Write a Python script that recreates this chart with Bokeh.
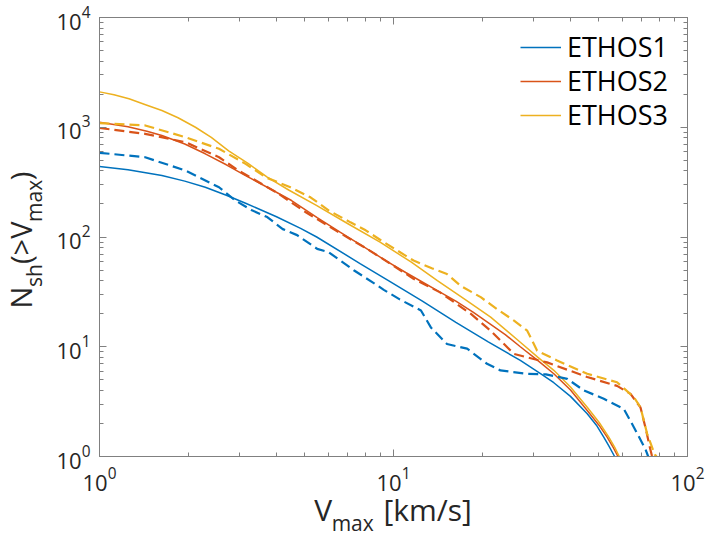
import numpy as np
from bokeh.plotting import figure
from bokeh.models import (Range1d, FixedTicker, LogAxis, Legend, LegendItem,
                          CustomJSTickFormatter)
from bokeh.core.properties import value
from bokeh.embed import file_html
from bokeh.resources import INLINE

# ---------------- data ----------------
series_names = ["ETHOS1", "ETHOS2", "ETHOS3"]
series_colors = ["#0072BD", "#D95319", "#EDB120"]

e1_solid_x = [1, 1.25, 1.63, 1.95, 2.29, 2.7, 3.14, 4.0, 4.83, 5.48, 7.72, 9.77, 12.5,
              16.3, 21, 27, 32, 35.1, 40, 45.6, 49, 51.9, 54, 56.5]
e1_solid_y = [439, 410, 363, 323, 284, 240, 203, 153, 120, 100, 57, 39, 26.2,
              16.7, 11.1, 7.5, 5.57, 4.7, 3.53, 2.45, 1.93, 1.5, 1.25, 1.0]

e1_dash_x = [1, 1.43, 1.96, 2.55, 2.9, 3.3, 3.72, 4.2, 4.7, 5.5, 6.0, 6.6, 7.35, 8.57,
             9.27, 10.5, 12.4, 13.4, 15.2, 17.8, 20.8, 23.1, 28.5, 33, 39, 44.4, 51.9,
             60.7, 65.7, 71.9, 73.5]
e1_dash_y = [585, 533, 403, 284, 215, 175, 152, 118, 104, 78, 73, 61, 49.5, 38,
             33, 27, 21.4, 15, 10.6, 9.6, 7.0, 6.08, 5.67, 5.6, 5.1, 4.0, 3.36,
             2.72, 1.85, 1.17, 1.0]

e2_solid_x = [1, 1.25, 1.45, 1.63, 1.95, 2.29, 2.7, 3.14, 3.8, 4.5, 5.5, 6.6, 8.0, 9.5,
              11, 12.4, 14.3, 16.3, 18.7, 21.4, 24, 27, 31, 35.1, 40, 45.6, 50, 53.3,
              56, 58]
e2_solid_y = [1112, 1010, 920, 841, 703, 573, 455, 363, 275, 215, 150, 110, 80, 60,
              47.5, 39.5, 31.8, 26, 20.6, 16, 12.9, 10, 7.48, 5.67, 4.03, 2.62, 1.93, 1.5,
              1.2, 1.0]

e2_dash_x = [1, 1.43, 1.96, 2.55, 2.97, 4.0, 5.0, 6.6, 8.0, 9.77, 11.7, 14.4, 18.3, 21.4,
             23.1, 25.7, 28.5, 33.3, 45.6, 57.6, 64, 69.2, 71.9, 74.7, 75.8]
e2_dash_y = [985, 871, 731, 533, 403, 255, 170, 108, 80, 57, 41.6, 31.3, 20, 14,
             11.4, 8.6, 8.0, 7.2, 5.3, 4.4, 3.72, 2.8, 1.85, 1.17, 1.0]

e3_solid_x = [1, 1.12, 1.26, 1.45, 1.63, 1.85, 2.12, 2.4, 2.75, 3.2, 3.72, 4.4, 5.43, 7.0,
              9.0, 11.5, 14.1, 17.5, 21.4, 27, 31, 35.1, 40, 45.6, 50, 54, 56.5, 58.6]
e3_solid_y = [2100, 1975, 1816, 1589, 1422, 1221, 1000, 810, 610, 468, 351, 268, 196, 132,
              89.7, 59, 40, 27, 18.6, 11, 8.0, 6.1, 4.29, 2.81, 2.05, 1.5, 1.22, 1.0]

e3_dash_x = [1, 1.43, 1.96, 2.55, 3.14, 3.7, 4.46, 5.22, 6.03, 7.14, 8.04, 9.27, 11.7, 13.5,
             15.2, 16.9, 19.8, 22.5, 25.7, 28.5, 30.8, 36, 45.6, 57.6, 65.7, 69.2, 72.9,
             77.4, 78.5]
e3_dash_y = [1089, 1038, 812, 636, 464, 347, 284, 230, 174, 136, 115, 89.7, 61, 52,
             46, 36, 28.3, 22, 17.3, 14, 9.2, 7.5, 5.67, 4.75, 3.47, 2.81, 1.61,
             1.04, 1.0]

x_major_ticks = [1, 10, 100]
x_minor_ticks = [2, 3, 4, 5, 6, 7, 8, 9, 20, 30, 40, 50, 60, 70, 80, 90]
y_major_ticks = [1, 10, 100, 1000, 10000]
y_minor_ticks = [m * d for d in [1, 10, 100, 1000] for m in range(2, 10)]

# ---------------- figure ----------------
FONT = "Open Sans"
AX_COL = "#808080"
TXT_COL = "#262626"
W, H = 706, 538
FL, FR, FT, FB = 99, 19, 17, 82

p = figure(width=W, height=H, x_axis_type="log", y_axis_type="log",
           x_range=Range1d(1, 100), y_range=Range1d(1, 1e4),
           output_backend="svg", toolbar_location=None,
           min_border_left=FL, min_border_right=FR,
           min_border_top=FT, min_border_bottom=FB)
p.grid.visible = False
p.outline_line_color = AX_COL
p.outline_line_width = 1
p.background_fill_color = "white"
p.border_fill_color = "white"

def style_axis(ax, ticks, minor, labels=True):
    ax.ticker = FixedTicker(ticks=ticks, minor_ticks=minor)
    ax.axis_line_color = AX_COL
    ax.major_tick_line_color = AX_COL
    ax.minor_tick_line_color = AX_COL
    ax.major_tick_in = 7
    ax.major_tick_out = 0
    ax.minor_tick_in = 4
    ax.minor_tick_out = 0
    ax.major_label_text_font = FONT
    ax.major_label_text_font_size = "22px"
    ax.major_label_text_color = TXT_COL
    if not labels:
        ax.formatter = CustomJSTickFormatter(code="return ''")

style_axis(p.xaxis[0], x_major_ticks, x_minor_ticks)
style_axis(p.yaxis[0], y_major_ticks, y_minor_ticks)
p.xaxis[0].major_label_standoff = 10
p.yaxis[0].major_label_standoff = 9

top_ax = LogAxis()
style_axis(top_ax, x_major_ticks, x_minor_ticks, labels=False)
p.add_layout(top_ax, "above")
right_ax = LogAxis()
style_axis(right_ax, y_major_ticks, y_minor_ticks, labels=False)
p.add_layout(right_ax, "right")

# ---------------- lines ----------------
solids = [(e1_solid_x, e1_solid_y), (e2_solid_x, e2_solid_y), (e3_solid_x, e3_solid_y)]
dashes = [(e1_dash_x, e1_dash_y), (e2_dash_x, e2_dash_y), (e3_dash_x, e3_dash_y)]
solid_renderers = []
for (sx, sy), col in zip(solids, series_colors):
    solid_renderers.append(p.line(sx, sy, line_color=col, line_width=1.5))
for (dx, dy), col in zip(dashes, series_colors):
    p.line(dx, dy, line_color=col, line_width=2.2, line_dash="10 5")

# ---------------- legend (one row per entry, to match row pitch) ----------------
legend_row_bottoms = [391, 357, 323]
for name, r, yb in zip(series_names, solid_renderers, legend_row_bottoms):
    lg = Legend(items=[LegendItem(label=name, renderers=[r])], location=(421, yb))
    lg.label_text_font = FONT
    lg.label_text_font_size = "27px"
    lg.label_text_color = "black"
    lg.glyph_width = 41
    lg.glyph_height = 30
    lg.label_height = 30
    lg.label_standoff = 6
    lg.padding = 0
    lg.margin = 0
    lg.border_line_color = None
    lg.background_fill_alpha = 0
    p.add_layout(lg)

# ---------------- axis titles (pieces with subscripts) ----------------
FW = W - FL - FR
FH = H - FT - FB

def to_data(cx, cy):
    return (10 ** (2.0 * (cx - FL) / FW), 10 ** (4.0 * (FT + FH - cy) / FH))

MAIN, XMAIN, SUB = 29, 30, 21
adv = {"N": .736, "s": .489, "h": .614, "(": .297, ">": .572, "V": .579, "m": .930,
       "a": .556, "x": .504, ")": .297, " ": .26, "[": .331, "k": .525, "/": .371,
       "]": .331}

def width(t, size):
    return sum(adv.get(c, .55) for c in t) * size

pieces = []  # (text, cx, cy, size, angle)

# x title: V_max [km/s]
xparts = [("V", XMAIN, 0, 0), ("max", SUB, 13, 0), ("[km/s]", XMAIN, 0, 10)]
total = sum(width(t, s) + g for t, s, _, g in xparts)
cx = FL + FW / 2 - total / 2
for t, s, shift, gap in xparts:
    cx += gap
    pieces.append((t, cx, 509 + shift, s, 0.0))
    cx += width(t, s)

# y title: N_sh(>V_max), rotated
yparts = [("N", MAIN, 0), ("sh", SUB, 13), ("(>V", MAIN, 0), ("max", SUB, 13), (")", MAIN, 0)]
total = sum(width(t, s) for t, s, _ in yparts)
cy = FT + FH / 2 + total / 2 + 3
for t, s, shift in yparts:
    pieces.append((t, 20 + shift, cy, s, np.pi / 2))
    cy -= width(t, s)

for size in sorted(set(pc[3] for pc in pieces)):
    sel = [pc for pc in pieces if pc[3] == size]
    xs, ys = zip(*[to_data(pc[1], pc[2]) for pc in sel])
    p.text(x=list(xs), y=list(ys), text=[pc[0] for pc in sel],
           angle=[pc[4] for pc in sel], text_font=value(FONT),
           text_font_size=f"{size}px", text_color=TXT_COL,
           text_align="left", text_baseline="alphabetic", level="overlay")

open("out.html", "w").write(file_html(p, INLINE))
